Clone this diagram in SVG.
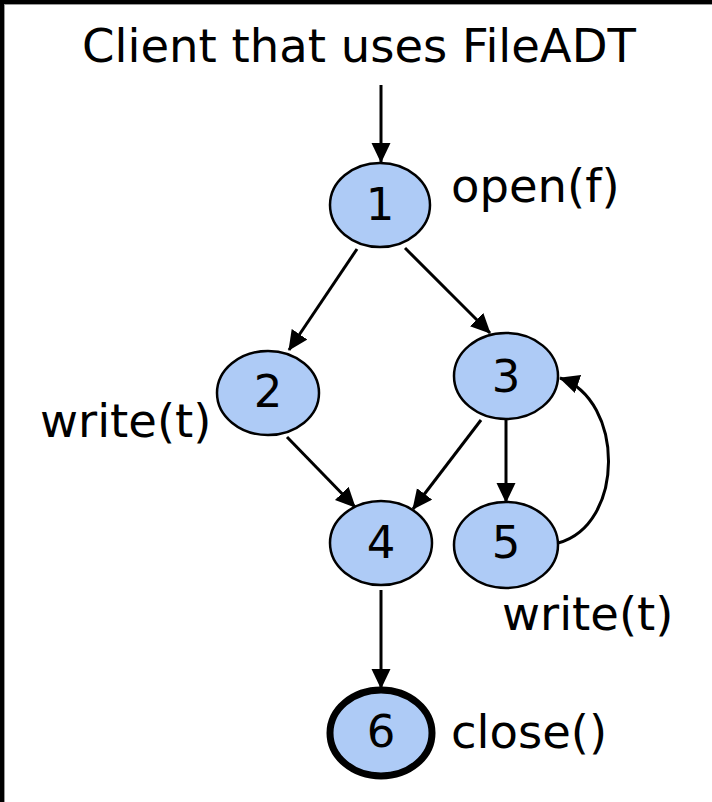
<svg xmlns="http://www.w3.org/2000/svg" width="712" height="802" viewBox="0 0 712 802">
<style>
.n{fill:#aecbf6;stroke:#000;stroke-width:2.5}
.t{font-family:"DejaVu Sans",Verdana,sans-serif;font-size:46.5px;fill:#000}
.d{font-size:45px}
.c{stroke:#000;stroke-width:3;fill:none;marker-end:url(#ah)}
</style>
<defs>
<marker id="ah" markerUnits="userSpaceOnUse" markerWidth="22" markerHeight="20" refX="19" refY="9.5" orient="auto" viewBox="0 0 22 20">
<path d="M0,0 L20,9.5 L0,19 Z" fill="#000"/>
</marker>
</defs>
<rect x="0" y="0" width="712" height="802" fill="#fff"/>
<rect x="0" y="0" width="712" height="4" fill="#000"/>
<rect x="0" y="0" width="4" height="802" fill="#000"/>
<line x1="4" y1="4.5" x2="712" y2="4.5" stroke="#999" stroke-width="1"/>
<line x1="4.5" y1="4" x2="4.5" y2="802" stroke="#999" stroke-width="1"/>
<text class="t" x="359" y="62" text-anchor="middle">Client that uses FileADT</text>
<g id="connectors">
<line class="c" x1="381" y1="85" x2="381" y2="162"/>
<line class="c" x1="357" y1="249" x2="289" y2="350"/>
<line class="c" x1="405" y1="248" x2="490" y2="333"/>
<line class="c" x1="287" y1="437" x2="355" y2="507"/>
<line class="c" x1="481" y1="420" x2="413" y2="509"/>
<line class="c" x1="506" y1="419" x2="506" y2="502"/>
<line class="c" x1="381" y1="590" x2="381" y2="688"/>
<path class="c" d="M558,543 C625,525 625,400 560,378"/>
</g>
<g id="node1"><ellipse class="n" cx="380" cy="205" rx="50" ry="42"/><text class="t d" x="380" y="220" text-anchor="middle">1</text><text class="t" x="451" y="202">open(f)</text></g>
<g id="node2"><ellipse class="n" cx="268" cy="393" rx="51" ry="42"/><text class="t d" x="268" y="407" text-anchor="middle">2</text><text class="t" x="40" y="437">write(t)</text></g>
<g id="node3"><ellipse class="n" cx="506" cy="376" rx="52" ry="43"/><text class="t d" x="506" y="392" text-anchor="middle">3</text></g>
<g id="node4"><ellipse class="n" cx="381" cy="543" rx="51" ry="42"/><text class="t d" x="381" y="558" text-anchor="middle">4</text></g>
<g id="node5"><ellipse class="n" cx="506" cy="545" rx="52" ry="43"/><text class="t d" x="506" y="558" text-anchor="middle">5</text><text class="t" x="502" y="630">write(t)</text></g>
<g id="node6"><ellipse class="n" cx="381" cy="733" rx="51" ry="43" style="stroke-width:7"/><text class="t d" x="381" y="747" text-anchor="middle">6</text><text class="t" x="451" y="748">close()</text></g>
</svg>
